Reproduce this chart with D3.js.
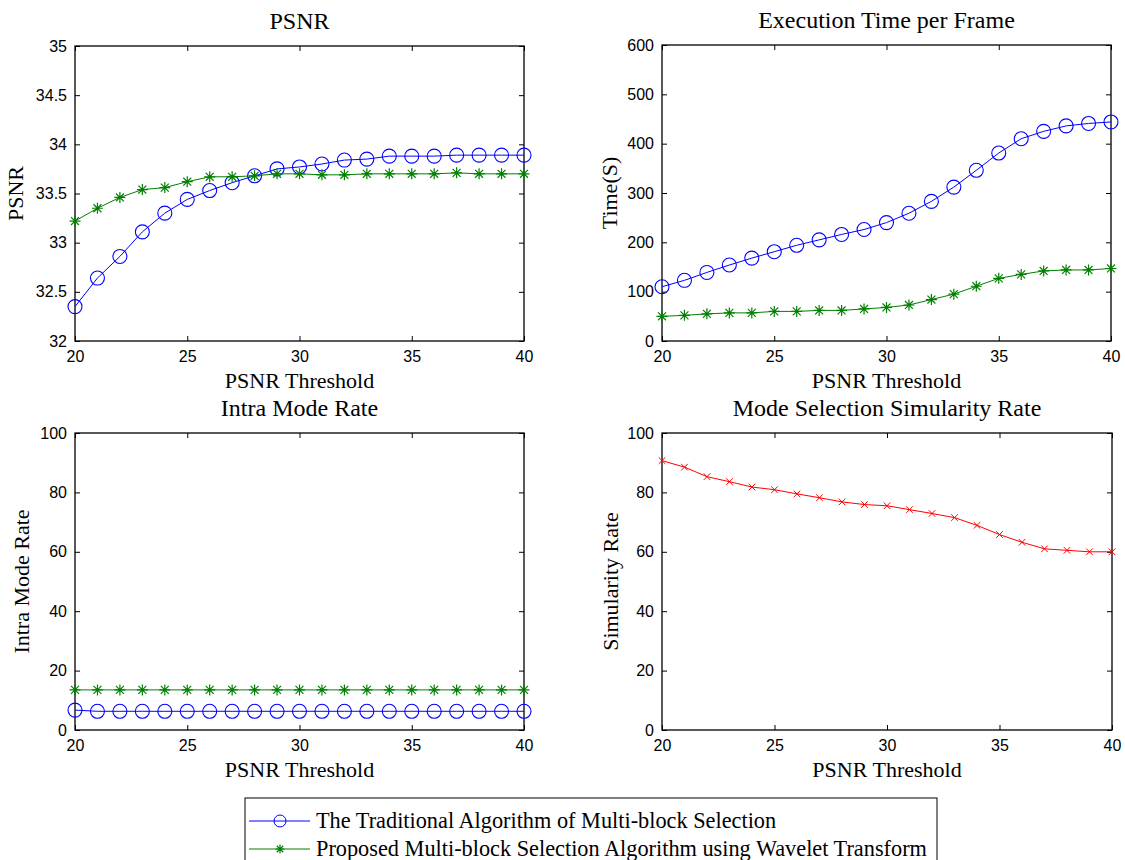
<!DOCTYPE html>
<html><head><meta charset="utf-8">
<script src="https://cdn.jsdelivr.net/npm/d3@7"></script>
<style>
body{margin:0;background:#fff;}
svg{display:block;}
.tick text{font-family:"Liberation Sans",Arial,sans-serif;font-size:16px;fill:#000;}
.lbl{font-family:"Liberation Serif","Times New Roman",serif;font-size:22px;fill:#000;}
.lg{font-family:"Liberation Serif","Times New Roman",serif;font-size:22.3px;fill:#000;}
.ttl{font-family:"Liberation Serif","Times New Roman",serif;font-size:24px;fill:#000;}
</style></head>
<body>
<svg id="c" width="1125" height="860"></svg>
<script>
const thresholds = [20,21,22,23,24,25,26,27,28,29,30,31,32,33,34,35,36,37,38,39,40];
const xTicks = [20,25,30,35,40];

const psnrTraditional = [32.35,32.64,32.86,33.11,33.30,33.44,33.53,33.61,33.68,33.75,33.77,33.80,33.84,33.85,33.88,33.88,33.88,33.89,33.89,33.89,33.89];
const psnrProposed    = [33.22,33.35,33.46,33.54,33.56,33.62,33.67,33.67,33.68,33.70,33.70,33.69,33.69,33.70,33.70,33.70,33.70,33.71,33.70,33.70,33.70];
const psnrTicks = [32,32.5,33,33.5,34,34.5,35];

const timeTraditional = [110,123,139,154,168,181,194,205,216,226,240,259,283,312,346,381,410,425,436,441,444];
const timeProposed    = [50,52,55,57,57,60,60,62,62,65,68,73,84,95,111,127,135,142,144,144,147];
const timeTicks = [0,100,200,300,400,500,600];

const intraTraditional = [6.7,6.3,6.3,6.3,6.3,6.3,6.3,6.3,6.3,6.3,6.3,6.3,6.3,6.3,6.3,6.3,6.3,6.3,6.3,6.3,6.3];
const intraProposed    = [13.5,13.5,13.5,13.5,13.5,13.5,13.5,13.5,13.5,13.5,13.5,13.5,13.5,13.5,13.5,13.5,13.5,13.5,13.5,13.5,13.5];
const rateTicks = [0,20,40,60,80,100];

const similarity = [90.7,88.5,85.3,83.6,81.8,80.9,79.5,78.2,76.8,75.9,75.5,74.2,72.9,71.5,68.9,65.8,63.2,61.0,60.5,60.0,60.0];

const legendLabels = ["The Traditional Algorithm of Multi-block Selection","Proposed Multi-block Selection Algorithm using Wavelet Transform"];

const BLUE="#0000ff", GREEN="#008000", RED="#ff0000";
const svg = d3.select("#c");

function starPath(s){
  const r=s, d=s*0.72;
  return `M${-r},0L${r},0M0,${-r}L0,${r}M${-d},${-d}L${d},${d}M${-d},${d}L${d},${-d}`;
}
function xPath(s){ return `M${-s},${-s}L${s},${s}M${-s},${s}L${s},${-s}`; }

function drawMarkers(g, pts, type, color){
  if(type==="o"){
    g.selectAll(null).data(pts).join("circle")
      .attr("cx",d=>d[0]).attr("cy",d=>d[1]).attr("r",7)
      .attr("fill","none").attr("stroke",color).attr("stroke-width",1.1);
  } else if(type==="*"){
    g.selectAll(null).data(pts).join("path")
      .attr("transform",d=>`translate(${d[0]},${d[1]})`)
      .attr("d",starPath(5.5)).attr("fill","none").attr("stroke",color).attr("stroke-width",1.2);
  } else {
    g.selectAll(null).data(pts).join("path")
      .attr("transform",d=>`translate(${d[0]},${d[1]})`)
      .attr("d",xPath(3.3)).attr("fill","none").attr("stroke",color).attr("stroke-width",1);
  }
}

function panel(o){
  const {left,top,w,h,ydom,yticks,series,title,ylabel} = o;
  const g = svg.append("g").attr("transform",`translate(${left},${top})`);
  const x = d3.scaleLinear().domain([20,40]).range([0,w]);
  const y = d3.scaleLinear().domain(ydom).range([h,0]);
  const tk=5;
  const ax = [
    d3.axisBottom(x).tickValues(xTicks).tickSizeInner(-tk).tickSizeOuter(0).tickPadding(10),
    d3.axisTop(x).tickValues(xTicks).tickSizeInner(-tk).tickSizeOuter(0).tickFormat(""),
    d3.axisLeft(y).tickValues(yticks).tickSizeInner(-tk).tickSizeOuter(0).tickPadding(8).tickFormat(d3.format("")),
    d3.axisRight(y).tickValues(yticks).tickSizeInner(-tk).tickSizeOuter(0).tickFormat("")
  ];
  const pos = [[0,h],[0,0],[0,0],[w,0]];
  ax.forEach((a,i)=>{
    const ag = g.append("g").attr("transform",`translate(${pos[i][0]},${pos[i][1]})`).call(a);
    ag.select(".domain").remove();
    ag.selectAll(".tick line").attr("stroke","#000").attr("stroke-width",1);
  });
  g.append("rect").attr("width",w).attr("height",h).attr("fill","none").attr("stroke","#000").attr("stroke-width",1.3);
  const line = d3.line().x(d=>d[0]).y(d=>d[1]);
  series.forEach(s=>{
    const pts = thresholds.map((t,i)=>[x(t),y(s.values[i])]);
    g.append("path").attr("d",line(pts)).attr("fill","none").attr("stroke",s.color).attr("stroke-width",1);
    drawMarkers(g.append("g"),pts,s.marker,s.color);
  });
  g.append("text").attr("class","ttl").attr("x",w/2).attr("y",-17).attr("text-anchor","middle").text(title);
  g.append("text").attr("class","lbl").attr("x",w/2).attr("y",h+47).attr("text-anchor","middle").text("PSNR Threshold");
  g.append("text").attr("class","lbl").attr("transform",`translate(${o.ylx},${h/2}) rotate(-90)`).attr("text-anchor","middle").text(ylabel);
}

panel({left:75,top:46,w:449,h:295,ydom:[32,35],yticks:psnrTicks,title:"PSNR",ylabel:"PSNR",ylx:-52,
  series:[{values:psnrTraditional,color:BLUE,marker:"o"},{values:psnrProposed,color:GREEN,marker:"*"}]});
panel({left:662,top:45,w:449,h:296,ydom:[0,600],yticks:timeTicks,title:"Execution Time per Frame",ylabel:"Time(S)",ylx:-45,
  series:[{values:timeTraditional,color:BLUE,marker:"o"},{values:timeProposed,color:GREEN,marker:"*"}]});
panel({left:75,top:433,w:449,h:297,ydom:[0,100],yticks:rateTicks,title:"Intra Mode Rate",ylabel:"Intra Mode Rate",ylx:-46,
  series:[{values:intraTraditional,color:BLUE,marker:"o"},{values:intraProposed,color:GREEN,marker:"*"}]});
panel({left:662,top:433,w:450,h:297,ydom:[0,100],yticks:rateTicks,title:"Mode Selection Simularity Rate",ylabel:"Simularity Rate",ylx:-44,
  series:[{values:similarity,color:RED,marker:"x"}]});

// legend
const lg = svg.append("g").attr("transform","translate(245,798)");
lg.append("rect").attr("width",692).attr("height",70).attr("fill","#fff").attr("stroke","#000").attr("stroke-width",1);
const lcol=[BLUE,GREEN];
legendLabels.forEach((t,i)=>{
  const yy = 23+ i*28;
  lg.append("line").attr("x1",4).attr("x2",65).attr("y1",yy).attr("y2",yy).attr("stroke",lcol[i]).attr("stroke-width",1);
  if(i===0) lg.append("circle").attr("cx",35).attr("cy",yy).attr("r",6).attr("fill","none").attr("stroke",BLUE);
  else lg.append("path").attr("transform",`translate(35,${yy})`).attr("d",starPath(4.5)).attr("fill","none").attr("stroke",GREEN).attr("stroke-width",1.2);
  lg.append("text").attr("class","lg").attr("x",71).attr("y",yy+7).text(t);
});
</script>
</body></html>
